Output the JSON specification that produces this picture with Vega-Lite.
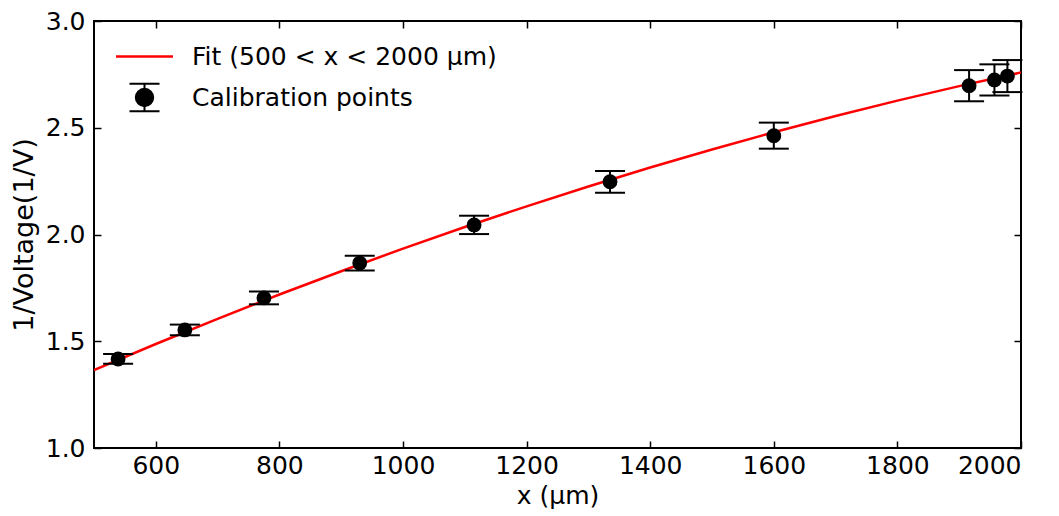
{
  "$schema": "https://vega.github.io/schema/vega-lite/v6.json",
  "width": 927,
  "height": 427,
  "autosize": {"type": "none"},
  "padding": {"left": 94, "top": 21, "right": 38, "bottom": 68},
  "background": "white",
  "config": {
    "font": "DejaVu Sans",
    "view": {"stroke": "black", "strokeWidth": 2},
    "axis": {
      "domain": false,
      "grid": false,
      "ticks": true,
      "tickColor": "black",
      "tickWidth": 1.5,
      "tickSize": -7,
      "labelFont": "DejaVu Sans",
      "labelFontSize": 25,
      "labelColor": "black",
      "titleFont": "DejaVu Sans",
      "titleFontSize": 25,
      "titleFontWeight": "normal",
      "titleColor": "black"
    }
  },
  "datasets": {
    "fit": [
      {"x": 500, "fit": 1.365},
      {"x": 600, "fit": 1.487},
      {"x": 700, "fit": 1.605},
      {"x": 800, "fit": 1.719},
      {"x": 900, "fit": 1.828},
      {"x": 1000, "fit": 1.934},
      {"x": 1100, "fit": 2.035},
      {"x": 1200, "fit": 2.132},
      {"x": 1300, "fit": 2.225},
      {"x": 1400, "fit": 2.314},
      {"x": 1500, "fit": 2.398},
      {"x": 1600, "fit": 2.479},
      {"x": 1700, "fit": 2.555},
      {"x": 1800, "fit": 2.627},
      {"x": 1900, "fit": 2.695},
      {"x": 2000, "fit": 2.759}
    ],
    "pts": [
      {"x": 539, "y": 1.417, "lo": 1.395, "hi": 1.440},
      {"x": 647, "y": 1.553, "lo": 1.528, "hi": 1.578},
      {"x": 775, "y": 1.703, "lo": 1.673, "hi": 1.733},
      {"x": 930, "y": 1.866, "lo": 1.831, "hi": 1.901},
      {"x": 1115, "y": 2.045, "lo": 2.002, "hi": 2.088},
      {"x": 1335, "y": 2.247, "lo": 2.196, "hi": 2.298},
      {"x": 1600, "y": 2.463, "lo": 2.402, "hi": 2.524},
      {"x": 1916, "y": 2.697, "lo": 2.624, "hi": 2.770},
      {"x": 1957, "y": 2.724, "lo": 2.651, "hi": 2.797},
      {"x": 1978, "y": 2.742, "lo": 2.667, "hi": 2.817}
    ]
  },
  "layer": [
    {
      "data": {"name": "fit"},
      "mark": {"type": "line", "strokeWidth": 2.5, "clip": true},
      "encoding": {
        "x": {"field": "x", "type": "quantitative", "scale": {"domain": [500, 2000], "nice": false, "zero": false},
              "axis": {"orient": "bottom", "title": "x (μm)", "format": "d", "values": [600, 800, 1000, 1200, 1400, 1600, 1800, 2000], "labelPadding": 12, "titlePadding": 5}},
        "y": {"field": "fit", "type": "quantitative", "scale": {"domain": [1, 3], "nice": false, "zero": false},
              "axis": {"orient": "left", "title": "1/Voltage(1/V)", "titleFontSize": 27, "values": [1, 1.5, 2, 2.5, 3], "format": ".1f", "labelPadding": 16, "titlePadding": 7}},
        "color": {
          "datum": "Fit (500 < x < 2000 μm)",
          "scale": {"domain": ["Fit (500 < x < 2000 μm)", "Calibration points"], "range": ["red", "black"]},
          "legend": {
            "title": null,
            "orient": "none",
            "legendX": 38,
            "legendY": 23,
            "padding": 0,
            "symbolSize": 900,
            "symbolStrokeWidth": 2.5,
            "labelFont": "DejaVu Sans",
            "labelFontSize": 25,
            "labelColor": "black",
            "labelLimit": 0,
            "labelOffset": 35,
            "rowPadding": 9,
            "encode": {
              "symbols": {
                "update": {
                  "shape": {"signal": "datum.value === 'Calibration points' ? 'M-1,-0.91L1,-0.91M0,-0.91L0,0.91M-1,0.91L1,0.91M0.58,0A0.58,0.58,0,1,1,-0.58,0A0.58,0.58,0,1,1,0.58,0Z' : 'M-1.9,0L1.9,0'"},
                  "fill": {"signal": "datum.value === 'Calibration points' ? 'black' : 'transparent'"},
                  "stroke": {"signal": "datum.value === 'Calibration points' ? 'black' : 'red'"},
                  "strokeWidth": {"signal": "datum.value === 'Calibration points' ? 2 : 2.5"},
                  "opacity": {"value": 1}
                }
              }
            }
          }
        }
      }
    },
    {
      "data": {"name": "pts"},
      "mark": {"type": "rule", "color": "black", "strokeWidth": 2, "opacity": 1},
      "encoding": {
        "x": {"field": "x", "type": "quantitative", "axis": null},
        "y": {"field": "lo", "type": "quantitative", "axis": null},
        "y2": {"field": "hi"}
      }
    },
    {
      "data": {"name": "pts"},
      "mark": {"type": "tick", "color": "black", "thickness": 2, "size": 30, "orient": "horizontal", "opacity": 1},
      "encoding": {
        "x": {"field": "x", "type": "quantitative", "axis": null},
        "y": {"field": "lo", "type": "quantitative", "axis": null}
      }
    },
    {
      "data": {"name": "pts"},
      "mark": {"type": "tick", "color": "black", "thickness": 2, "size": 30, "orient": "horizontal", "opacity": 1},
      "encoding": {
        "x": {"field": "x", "type": "quantitative", "axis": null},
        "y": {"field": "hi", "type": "quantitative", "axis": null}
      }
    },
    {
      "data": {"name": "pts"},
      "mark": {"type": "point", "shape": "circle", "filled": true, "size": 220, "opacity": 1},
      "encoding": {
        "x": {"field": "x", "type": "quantitative",
              "axis": {"orient": "top", "title": null, "labels": false, "values": [600, 800, 1000, 1200, 1400, 1600, 1800, 2000]}},
        "y": {"field": "y", "type": "quantitative",
              "axis": {"orient": "right", "title": null, "labels": false, "values": [1, 1.5, 2, 2.5, 3]}},
        "color": {"datum": "Calibration points"}
      }
    }
  ],
  "resolve": {"axis": {"x": "independent", "y": "independent"}}
}
